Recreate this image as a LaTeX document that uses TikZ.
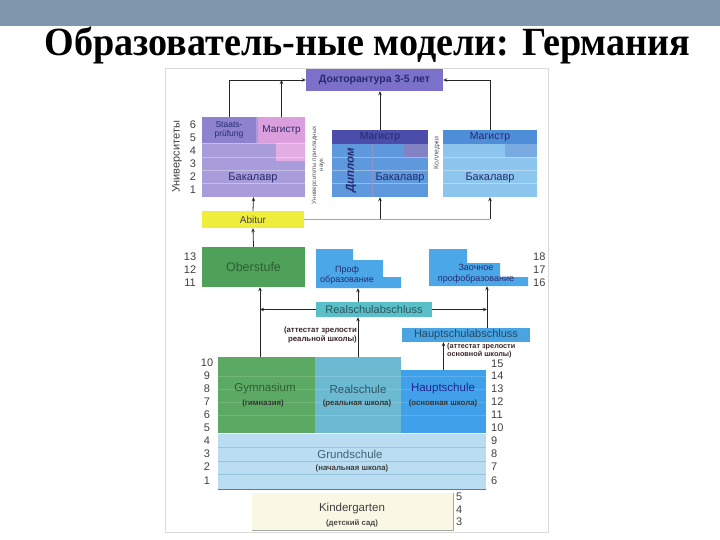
\documentclass[tikz,border=0pt]{standalone}
\usepackage{fontspec}
\setmainfont{Liberation Serif}
\newfontfamily\diagsans{Liberation Sans}
\usepackage{xcolor}
\usetikzlibrary{arrows.meta, positioning}

\definecolor{barblue}{HTML}{7F97AD}
\definecolor{framegray}{HTML}{DADADA}
\definecolor{doctcol}{HTML}{7B70CA}
\definecolor{navytxt}{HTML}{262B6E}
\definecolor{unibase}{HTML}{A89CDA}
\definecolor{unistaats}{HTML}{8E82CE}
\definecolor{unimag}{HTML}{DC9FDE}
\definecolor{fhbase}{HTML}{5E98DD}
\definecolor{fhmag}{HTML}{4C4CAA}
\definecolor{colbase}{HTML}{8CC5EE}
\definecolor{colmag}{HTML}{4E8DD8}
\definecolor{abiturcol}{HTML}{F0EE3C}
\definecolor{obercol}{HTML}{4FA15A}
\definecolor{greentxt}{HTML}{2E5E34}
\definecolor{profcol}{HTML}{4CA7E9}
\definecolor{rsacol}{HTML}{5BBFC9}
\definecolor{hsacol}{HTML}{4BA4E2}
\definecolor{gymcol}{HTML}{5CA963}
\definecolor{realcol}{HTML}{6CBAD2}
\definecolor{hauptcol}{HTML}{40A1EA}
\definecolor{grundcol}{HTML}{BADDF1}
\definecolor{grundline}{HTML}{98C6E0}
\definecolor{kindercol}{HTML}{FAF7E4}
\definecolor{notetxt}{HTML}{3A2626}

\begin{document}
\begin{tikzpicture}[
  x=1pt, y=-1pt,
  block/.style={rectangle, inner sep=0pt, align=center,
                font=\diagsans\fontsize{10}{11}\selectfont},
  lbl/.style={inner sep=0pt, align=center, font=\diagsans\fontsize{11}{12}\selectfont},
  small/.style={inner sep=0pt, align=center, font=\diagsans\bfseries\fontsize{7.8}{9}\selectfont},
  num/.style={inner sep=0pt, font=\diagsans\fontsize{11}{12}\selectfont, text=black!75},
  stripe/.style={white, opacity=0.35, line width=0.6pt},
  arrow/.style={-{Stealth[length=4pt, width=3.5pt]}, line width=0.8pt, draw=black!85},
  feed/.style={line width=0.8pt, draw=gray!70}
]
\useasboundingbox (0,0) rectangle (720,540);

% title bar
\fill[barblue] (0,0) rectangle (720,26);
\node[anchor=base, inner sep=0pt, font=\bfseries\fontsize{40}{44}\selectfont] (title) at (367.5,56)
  {\scalebox{0.953}[1]{Образователь-ные модели: Германия}};
\draw[framegray, line width=0.8pt] (165,68) rectangle (548,532);

% doctorate
\node[block, fill=doctcol, minimum width=137, minimum height=22, text=navytxt,
      font=\diagsans\bfseries\fontsize{10.5}{11.5}\selectfont] (doct) at (374.5,80) {Докторантура 3-5 лет};

% universities
\node[block, fill=unibase, minimum width=103, minimum height=80] (uni) at (253.5,157) {};
\node[block, fill=unistaats, minimum width=54, minimum height=26, text=navytxt,
      font=\diagsans\fontsize{8.5}{9}\selectfont] (staats) at (229,130) {Staats-\\prüfung};
\fill[unimag!85] (276,143) rectangle (305,161);
\node[block, fill=unimag, minimum width=47, minimum height=26, text=navytxt] (umag) at (281.5,130) {Магистр};
\foreach \yy in {143.7,157,170.3,183.7} \draw[stripe] (202,\yy) -- (305,\yy);
\node[lbl, text=navytxt] (ubak) at (253,178) {Бакалавр};
\node[num, rotate=90] (unilbl) at (177,157) {Университеты};

% applied sciences
\node[block, fill=fhbase, minimum width=96, minimum height=67] (fh) at (380,163.5) {};
\fill[fhmag!70] (404,144) rectangle (428,157);
\node[block, fill=fhmag, minimum width=96, minimum height=14, text=navytxt,
      font=\diagsans\fontsize{10.5}{11}\selectfont] (fhm) at (380,137) {Магистр};
\foreach \yy in {157,170.3,183.7} \draw[stripe] (332,\yy) -- (428,\yy);
\draw[fhmag!60, line width=0.6pt] (372,144) -- (372,197);
\node[lbl, rotate=90, text=navytxt, font=\diagsans\bfseries\itshape\fontsize{11.5}{12}\selectfont] (dipl) at (351,170) {Диплом};
\node[lbl, text=navytxt] (fhbak) at (400,178) {Бакалавр};
\node[lbl, rotate=90, text=black!65, font=\diagsans\fontsize{6.3}{7}\selectfont] (fhlbl) at (318,165)
  {Университеты прикладных\\наук};

% colleges
\node[block, fill=colbase, minimum width=94, minimum height=67] (col) at (490,163.5) {};
\fill[colmag!75] (505,144) rectangle (537,157);
\node[block, fill=colmag, minimum width=94, minimum height=14, text=navytxt,
      font=\diagsans\fontsize{10.5}{11}\selectfont] (colm) at (490,137) {Магистр};
\foreach \yy in {157,170.3,183.7} \draw[stripe] (443,\yy) -- (537,\yy);
\node[lbl, text=navytxt] (colbak) at (490,178) {Бакалавр};
\node[lbl, rotate=90, text=black!65, font=\diagsans\fontsize{7}{8}\selectfont] (collbl) at (437,153) {Колледжи};

\foreach \n/\yy in {6/125,5/138,4/151,3/164,2/177,1/190}
  \node[num] at (193,\yy) {\n};

% Abitur and Oberstufe
\node[block, fill=abiturcol, minimum width=102, minimum height=17, text=black!75] (abitur) at (253,219.5) {Abitur};
\node[block, fill=obercol, minimum width=103, minimum height=40, text=greentxt,
      font=\diagsans\fontsize{12.5}{13.5}\selectfont] (ober) at (253.5,267) {Oberstufe};
\foreach \n/\yy in {13/257,12/270,11/283}
  \node[num] at (190,\yy) {\n};

% vocational
\node[block, minimum width=85, minimum height=40] (prof) at (358.5,268) {};
\fill[profcol] (316,249) -- (353,249) -- (353,260) -- (383,260) -- (383,277)
  -- (401,277) -- (401,288) -- (316,288) -- cycle;
\node[lbl, text=navytxt, font=\diagsans\fontsize{9}{10.5}\selectfont] (proftxt) at (347,275) {Проф\\образование};
\node[block, minimum width=101, minimum height=37] (zaoch) at (479.5,267.5) {};
\fill[profcol] (429,249) -- (467,249) -- (467,263) -- (500,263) -- (500,277)
  -- (528,277) -- (528,286) -- (429,286) -- cycle;
\node[lbl, text=navytxt, font=\diagsans\fontsize{9}{10.5}\selectfont] (zaochtxt) at (476,274) {Заочное\\профобразование};
\foreach \n/\yy in {18/257,17/270,16/283}
  \node[num, anchor=west] at (533,\yy) {\n};

% leaving certificates
\node[block, fill=rsacol, minimum width=116, minimum height=15, text=black!55!rsacol,
      font=\diagsans\fontsize{11}{12}\selectfont] (rsa) at (374,309.5) {Realschulabschluss};
\node[block, fill=hsacol, minimum width=128, minimum height=14, text=black!55!hsacol,
      font=\diagsans\fontsize{11}{12}\selectfont] (hsa) at (466,335) {Hauptschulabschluss};
\node[small, anchor=east, align=right, text=notetxt] (rsanote) at (357,335)
  {(аттестат зрелости\\реальной школы)};
\node[small, anchor=west, align=left, text=notetxt,
      font=\diagsans\bfseries\fontsize{7.3}{8.3}\selectfont] (hsanote) at (447,350.5)
  {(аттестат зрелости\\основной школы)};

% secondary school
\node[block, fill=gymcol, minimum width=97, minimum height=76] (gym) at (266.5,395) {};
\node[block, fill=realcol, minimum width=86, minimum height=76] (real) at (358,395) {};
\node[block, fill=hauptcol, minimum width=85, minimum height=63] (haupt) at (443.5,401.5) {};
\foreach \yy in {376,389,402,415} \draw[stripe, opacity=0.15] (218,\yy) -- (486,\yy);
\node[lbl, text=greentxt, font=\diagsans\fontsize{11.5}{12.5}\selectfont] (gymtxt) at (265,389) {Gymnasium};
\node[small, text=black!80] (gymru) at (263,403) {(гимназия)};
\node[lbl, text=black!55!realcol, font=\diagsans\fontsize{11.5}{12.5}\selectfont] (realtxt) at (358,389) {Realschule};
\node[small, text=black!80] (realru) at (357,403) {(реальная школа)};
\node[lbl, text=navytxt!80!blue, font=\diagsans\fontsize{11.5}{12.5}\selectfont] (haupttxt) at (443,389) {Hauptschule};
\node[small, text=black!80] (hauptru) at (443,403) {(основная школа)};

% primary school
\node[block, fill=grundcol, minimum width=268, minimum height=55] (grund) at (352,461.5) {};
\foreach \yy in {447.5,461,474.5} \draw[grundline, line width=0.6pt] (218,\yy) -- (486,\yy);
\draw[black!45!grundcol, line width=1pt] (218,489) -- (486,489);
\node[lbl, text=black!45!realcol, font=\diagsans\fontsize{11.5}{12.5}\selectfont] (grundtxt) at (350,454) {Grundschule};
\node[small, text=black!75] (grundru) at (352,468) {(начальная школа)};

\foreach \n/\yy in {10/363,9/376,8/389,7/402,6/415,5/428,4/441,3/454,2/467,1/481}
  \node[num] at (207,\yy) {\n};
\foreach \n/\yy in {15/364,14/376,13/389,12/402,11/415,10/428,9/441,8/454,7/467,6/481}
  \node[num, anchor=west] at (491,\yy) {\n};

% kindergarten
\node[block, fill=kindercol, minimum width=201, minimum height=37] (kinder) at (352.5,511.5) {};
\draw[gray!70, line width=1pt] (252,530) -- (453,530) -- (453,493);
\node[lbl, text=black!75, font=\diagsans\fontsize{11.5}{12.5}\selectfont] (kindertxt) at (352,509) {Kindergarten};
\node[small, text=black!70] (kinderru) at (352,523) {(детский сад)};
\foreach \n/\yy in {5/497,4/510,3/522}
  \node[num, anchor=west] at (456,\yy) {\n};

% connectors
\coordinate (gymup) at (260,357);
\coordinate (hsaup) at (487,328);
\draw[arrow] (staats.north) |- (doct.west);
\draw[arrow] (umag.north) -- (umag.north |- doct.west);
\draw[arrow] (fhm.north) -- (fhm.north |- doct.south);
\draw[arrow] (colm.north) |- (doct.east);
\draw[arrow] (abitur.north) -- (uni.south);
\draw[feed] (abitur.east) -- (abitur.east -| col.south);
\draw[arrow] (abitur.east -| fh.south) -- (fh.south);
\draw[arrow] (abitur.east -| col.south) -- (col.south);
\draw[arrow] (ober.north) -- (abitur.south);
\draw[arrow] (gymup) -- (gymup |- ober.south);
\draw[arrow] (rsa.west) -- (rsa.west -| gymup);
\draw[arrow] (rsa.east) -- (rsa.east -| hsaup);
\draw[arrow] (real.north) -- (real.north |- rsa.south);
\draw[arrow] (real.north |- rsa.north) -- (real.north |- prof.south);
\draw[arrow] (hsaup) -- (hsaup |- zaoch.south);
\draw[arrow] (haupt.north) -- (haupt.north |- hsa.south);
\end{tikzpicture}
\end{document}
